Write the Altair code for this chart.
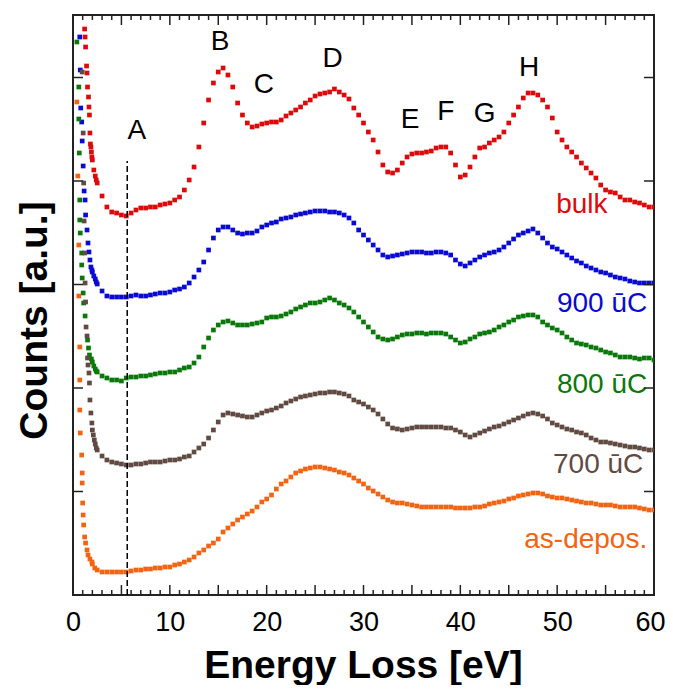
import altair as alt
import pandas as pd

# ---------------- data ----------------
SERIES = ["bulk", "900 ūC", "800 ūC", "700 ūC", "as-depos."]
COLORS = ["#dc0a0a", "#0a0ad2", "#0a780a", "#604a42", "#f06414"]

# energy grid of the spectra (2 ... 60 eV, 0.5 eV step)
GRID = [2.0 + 0.5 * i for i in range(117)]

BULK = [435, 412, 399, 388, 383, 382, 380, 379, 382, 385,
        387, 387, 388, 388, 390, 391, 392, 395, 398, 405,
        415, 428, 448, 472, 495, 512, 523, 527, 520, 508,
        492, 480, 472, 468, 469, 471, 472, 473, 473, 475,
        479, 482, 485, 488, 492, 495, 499, 501, 502, 503,
        506, 503, 500, 496, 487, 480, 472, 463, 455, 443,
        430, 423, 422, 425, 432, 438, 441, 442, 442, 443,
        444, 447, 448, 448, 442, 430, 418, 420, 428, 438,
        447, 448, 452, 455, 458, 463, 472, 480, 488, 497,
        502, 502, 500, 495, 488, 477, 463, 455, 448, 443,
        438, 432, 427, 422, 417, 410, 405, 403, 402, 398,
        395, 395, 393, 392, 390, 388, 388]
C900 = [323, 311, 304, 299, 298, 298, 298, 298, 299, 300,
        299, 299, 300, 301, 302, 302, 303, 305, 306, 308,
        312, 318, 325, 333, 345, 357, 365, 368, 368, 365,
        362, 361, 362, 362, 364, 368, 370, 372, 373, 376,
        377, 378, 380, 381, 382, 383, 384, 384, 384, 383,
        383, 382, 380, 377, 372, 365, 360, 355, 350, 345,
        340, 338, 339, 340, 341, 342, 343, 343, 343, 342,
        342, 343, 343, 342, 340, 335, 331, 329, 332, 335,
        338, 340, 342, 343, 345, 348, 352, 356, 360, 362,
        364, 366, 362, 357, 352, 348, 346, 343, 340, 337,
        334, 332, 329, 327, 325, 323, 322, 320, 318, 317,
        316, 314, 313, 312, 312, 312, 312]
C800 = [233, 223, 219, 217, 215, 215, 214, 217, 218, 218,
        219, 219, 220, 221, 222, 222, 223, 223, 225, 227,
        228, 232, 238, 248, 257, 265, 270, 273, 274, 272,
        270, 270, 270, 271, 272, 273, 277, 278, 278, 279,
        281, 283, 286, 288, 290, 292, 292, 293, 295, 297,
        295, 292, 290, 287, 283, 278, 273, 268, 263, 258,
        256, 255, 256, 258, 260, 261, 261, 262, 262, 261,
        262, 262, 262, 261, 258, 255, 252, 253, 256, 258,
        261, 262, 263, 265, 268, 270, 273, 275, 278, 279,
        280, 280, 278, 273, 270, 267, 265, 262, 258, 255,
        252, 251, 250, 248, 247, 245, 243, 242, 240, 238,
        238, 238, 237, 236, 237, 237, 235]
C700 = [165, 145, 139, 135, 133, 132, 131, 130, 130, 131,
        131, 132, 133, 133, 133, 134, 135, 135, 136, 138,
        139, 143, 147, 151, 157, 165, 173, 180, 182, 181,
        180, 179, 178, 178, 180, 182, 184, 185, 187, 189,
        192, 194, 196, 198, 199, 200, 201, 202, 202, 203,
        203, 202, 201, 199, 195, 193, 191, 188, 185, 181,
        176, 171, 167, 166, 165, 166, 167, 168, 168, 168,
        168, 168, 168, 167, 167, 165, 163, 160, 158, 160,
        162, 164, 166, 168, 169, 171, 173, 175, 177, 179,
        181, 182, 181, 179, 176, 172, 170, 168, 166, 165,
        163, 162, 160, 157, 155, 153, 153, 152, 151, 150,
        149, 148, 148, 147, 146, 145, 145]
ASDEP = [31, 25, 23, 23, 23, 23, 23, 23, 24, 25,
         25, 26, 26, 27, 27, 28, 28, 30, 31, 33,
         35, 38, 42, 45, 49, 52, 56, 63, 67, 71,
         75, 78, 81, 84, 88, 93, 96, 100, 106, 111,
         114, 118, 122, 124, 126, 127, 128, 128, 127, 126,
         125, 123, 122, 120, 117, 114, 111, 107, 104, 101,
         98, 95, 93, 92, 92, 91, 90, 89, 88, 88,
         88, 88, 88, 88, 88, 87, 87, 87, 87, 88,
         88, 89, 91, 92, 93, 94, 96, 97, 99, 100,
         101, 102, 102, 101, 99, 98, 97, 97, 96, 95,
         94, 93, 92, 92, 91, 90, 90, 90, 89, 88,
         88, 88, 88, 87, 86, 85, 85]

# steep zero-loss tail (extra points below 2.5 eV)
BULK_ONSET_E = [1.2, 1.25, 1.3, 1.4, 1.45, 1.5, 1.6, 1.65, 1.7, 1.75, 1.8, 1.85, 1.9, 1.95, 2.15, 2.3, 2.4]
BULK_ONSET = [566, 558, 548, 529, 522, 508, 498, 488, 480, 462, 451, 448, 443, 438, 425, 419, 415]
C900_ONSET_E = [0.7, 0.75, 0.8, 0.9, 0.95, 1.05, 1.15, 1.25, 1.3, 1.45, 1.55, 1.65, 1.75, 1.85, 1.95, 2.15, 2.3, 2.4]
C900_ONSET = [558, 525, 487, 473, 454, 429, 404, 395, 380, 365, 352, 343, 335, 328, 325, 319, 316, 313]
C800_ONSET_E = [0.4, 0.6, 0.6, 0.65, 0.7, 0.7, 0.75, 0.9, 0.9, 0.95, 1.05, 1.1, 1.25, 1.5, 1.6, 1.7, 1.9, 2.15, 2.3, 2.4]
C800_ONSET = [553, 508, 476, 442, 395, 375, 362, 342, 330, 317, 302, 292, 279, 255, 247, 240, 236, 229, 226, 224]
C700_ONSET_E = [0.95, 1.05, 1.1, 1.15, 1.2, 1.25, 1.3, 1.35, 1.45, 1.5, 1.55, 1.65, 1.7, 1.75, 1.85, 1.95, 2.1, 2.2, 2.3, 2.4]
C700_ONSET = [523, 462, 412, 374, 342, 312, 293, 268, 259, 237, 230, 222, 212, 195, 182, 172, 160, 155, 151, 147]
ASDEP_ONSET_E = [0.4, 0.5, 0.6, 0.6, 0.7, 0.7, 0.7, 0.75, 0.9, 0.95, 0.95, 1.0, 1.05, 1.1, 1.2, 1.3, 1.45, 1.55, 1.75, 1.95, 2.25]
ASDEP_ONSET = [493, 419, 350, 299, 248, 215, 185, 162, 140, 122, 112, 92, 80, 70, 58, 52, 45, 40, 36, 33, 27]

# peak letters
PEAK_LABELS = ["A", "B", "C", "D", "E", "F", "G", "H"]
PEAK_E = [6.6, 15.2, 19.7, 26.8, 34.8, 38.5, 42.5, 47.1]
PEAK_C = [456, 545, 502, 528, 467, 475, 473, 519]

# series labels
LABEL_E = [55.2, 59.3, 59.3, 58.9, 59.3]
LABEL_C = [382, 283, 202, 122, 47]

# dashed marker
DASH_E = [5.6]
DASH_TOP = [434]

X_TICKS = [0, 10, 20, 30, 40, 50, 60]
Y_TICKS = [103.5, 207, 310.5, 414, 517.5]

# ---------------- build tables ----------------
rows = []
for name, oe, ov, main in [
    ("bulk", BULK_ONSET_E, BULK_ONSET, BULK),
    ("900 ūC", C900_ONSET_E, C900_ONSET, C900),
    ("800 ūC", C800_ONSET_E, C800_ONSET, C800),
    ("700 ūC", C700_ONSET_E, C700_ONSET, C700),
    ("as-depos.", ASDEP_ONSET_E, ASDEP_ONSET, ASDEP),
]:
    for e, v in zip(list(oe) + GRID, list(ov) + main):
        rows.append({"E": e, "C": v, "series": name})
df = pd.DataFrame(rows)

peaks = pd.DataFrame({"E": PEAK_E, "C": PEAK_C, "t": PEAK_LABELS})
labels = pd.DataFrame({"E": LABEL_E, "C": LABEL_C, "series": SERIES})
dash = pd.DataFrame({"E": DASH_E, "C": [0], "C2": DASH_TOP})

minor = pd.DataFrame({"E": [i for i in range(1, 60) if i % 5 != 0]})
major = pd.DataFrame({"E": [i for i in range(5, 60, 5)]})
yt = pd.DataFrame({"C": Y_TICKS})

FONT = "Liberation Sans"
W, H = 581, 580
xs = alt.Scale(domain=[0, 60], nice=False, zero=False)
ys = alt.Scale(domain=[0, 580], nice=False, zero=False)

color = alt.Color("series:N", scale=alt.Scale(domain=SERIES, range=COLORS), legend=None)

points = alt.Chart(df).mark_square(size=22, opacity=1, clip=True).encode(
    x=alt.X("E:Q", scale=xs, axis=alt.Axis(
        values=X_TICKS, title="Energy Loss [eV]", grid=False, domain=False, ticks=False,
        labelFont=FONT, labelFontSize=27, labelColor="black", labelPadding=35,
        labelBaseline="alphabetic", labelFlush=False, labelOverlap=False,
        labelAlign={"condition": {"test": "datum.value === 60", "value": "right"}, "value": "center"},
        labelOffset={"condition": {"test": "datum.value === 60", "value": 11}, "value": 0},
        titleFont=FONT, titleFontSize=39, titleFontWeight="bold", titleColor="black",
        titleX=290, titleY=82, titleAlign="center", titleBaseline="alphabetic")),
    y=alt.Y("C:Q", scale=ys, axis=alt.Axis(
        title="Counts [a.u.]", grid=False, domain=False, ticks=False, labels=False,
        titleFont=FONT, titleFontSize=39, titleFontWeight="bold", titleColor="black",
        titleX=-39, titleY=305, titleAngle=270, titleAlign="center", titleBaseline="middle")),
    color=color,
)

dashed = alt.Chart(dash).mark_rule(color="black", strokeWidth=1.5, strokeDash=[6, 3]).encode(
    x=alt.X("E:Q", scale=xs), y=alt.Y("C:Q", scale=ys), y2="C2:Q")

peak_txt = alt.Chart(peaks).mark_text(font=FONT, fontSize=28, color="black",
                                      align="center", baseline="alphabetic").encode(
    x=alt.X("E:Q", scale=xs), y=alt.Y("C:Q", scale=ys), text="t:N")

label_txt = alt.Chart(labels).mark_text(font=FONT, fontSize=28, align="right",
                                        baseline="alphabetic").encode(
    x=alt.X("E:Q", scale=xs), y=alt.Y("C:Q", scale=ys), text="series:N", color=color)

TC = "#222222"
bot_minor = alt.Chart(minor).mark_rule(color=TC, strokeWidth=1.5).encode(
    x=alt.X("E:Q", scale=xs), y=alt.value(H), y2=alt.value(H - 5))
bot_major = alt.Chart(major).mark_rule(color=TC, strokeWidth=1.5).encode(
    x=alt.X("E:Q", scale=xs), y=alt.value(H), y2=alt.value(H - 10))
top_minor = alt.Chart(minor).mark_rule(color=TC, strokeWidth=1.5).encode(
    x=alt.X("E:Q", scale=xs), y=alt.value(0), y2=alt.value(5))
top_major = alt.Chart(major).mark_rule(color=TC, strokeWidth=1.5).encode(
    x=alt.X("E:Q", scale=xs), y=alt.value(0), y2=alt.value(10))
left_t = alt.Chart(yt).mark_rule(color=TC, strokeWidth=1.5).encode(
    y=alt.Y("C:Q", scale=ys), x=alt.value(0), x2=alt.value(10))
right_t = alt.Chart(yt).mark_rule(color=TC, strokeWidth=1.5).encode(
    y=alt.Y("C:Q", scale=ys), x=alt.value(W), x2=alt.value(W - 10))

chart = alt.layer(
    points, dashed, peak_txt, label_txt,
    bot_minor, bot_major, top_minor, top_major, left_t, right_t,
).properties(
    width=W, height=H,
    padding={"left": 65, "top": 7, "right": 11, "bottom": 90},
    autosize=alt.AutoSizeParams(type="none"),
    background="white",
).configure_view(stroke="#222222", strokeWidth=2)

chart.save("out.html", embed_options={"renderer": "svg", "actions": False})
